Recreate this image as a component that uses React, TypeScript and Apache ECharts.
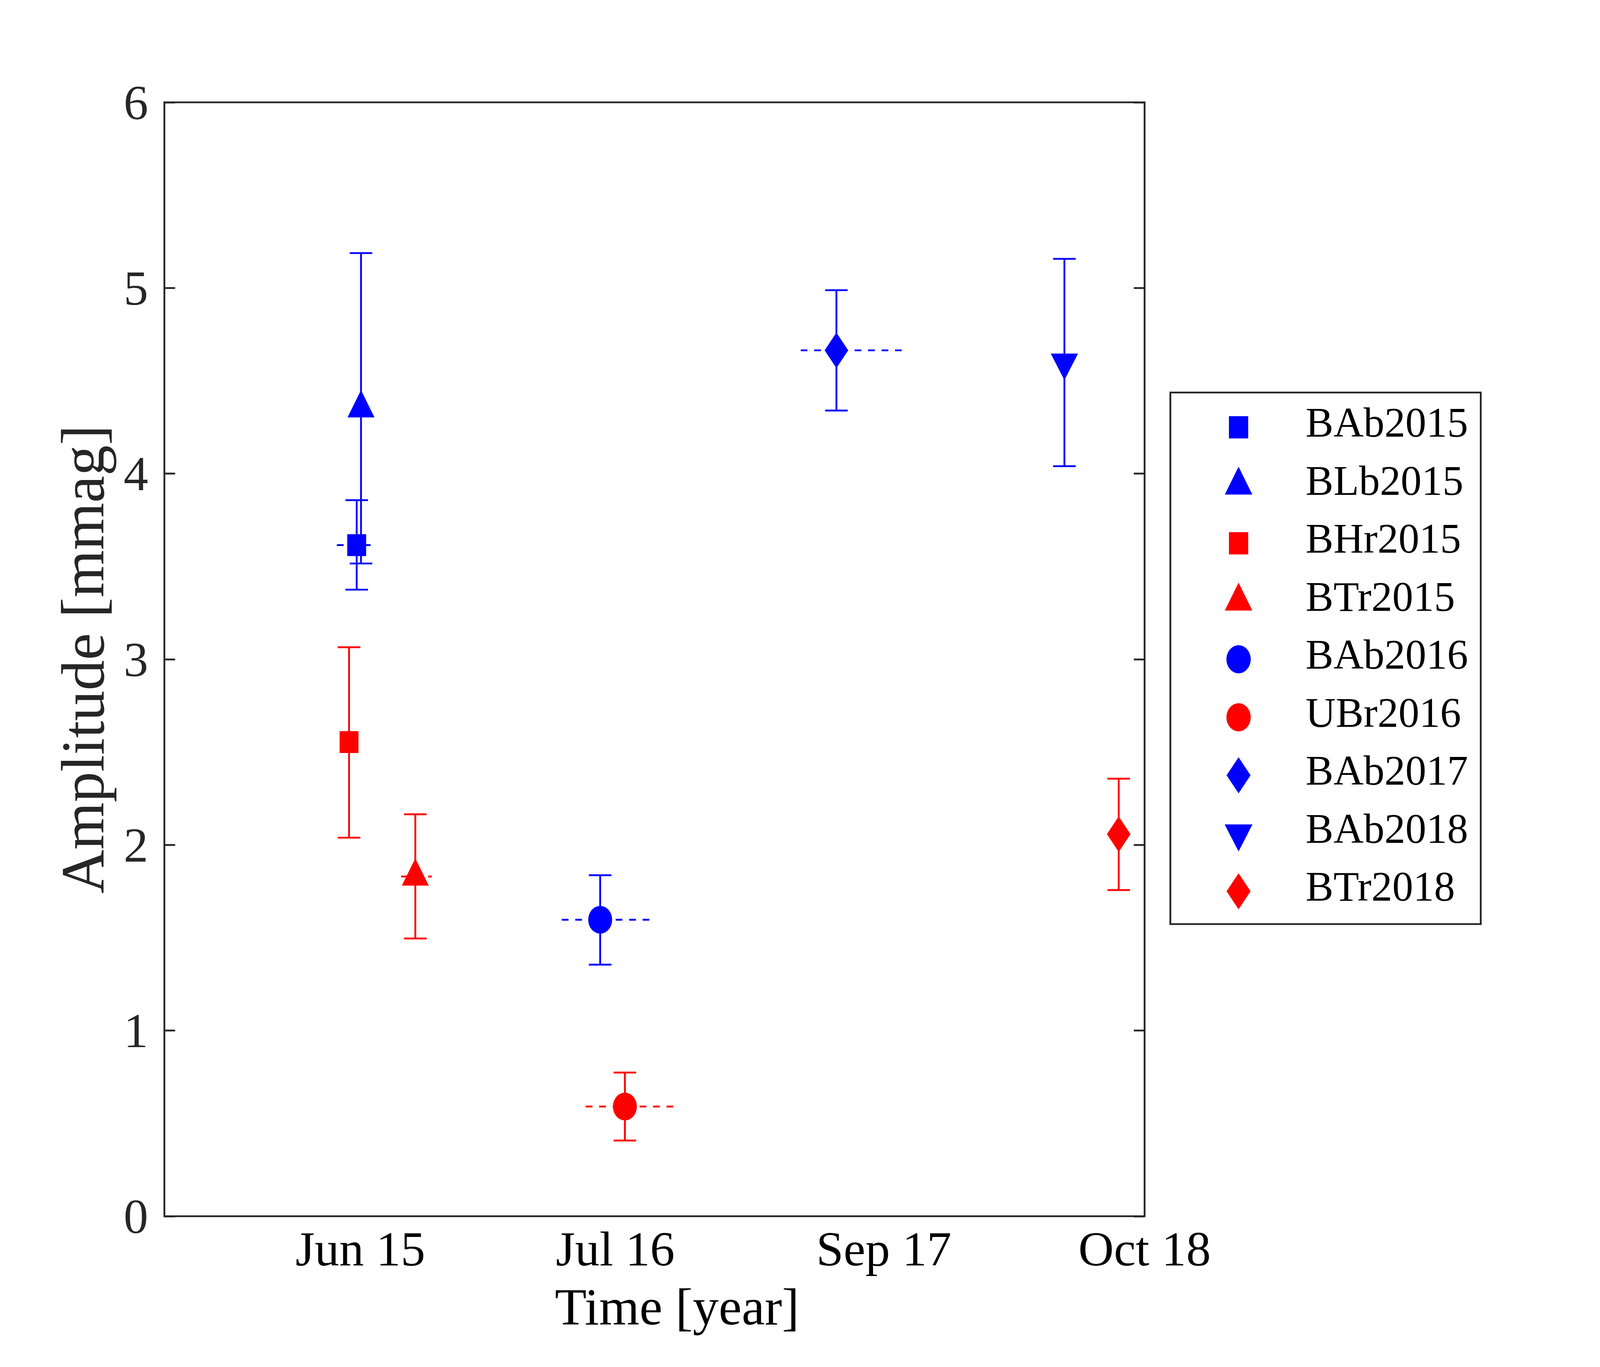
import React, { useEffect, useRef } from "react";
import * as echarts from "echarts";

// ---- data (time in months since Jan 2015, amplitude in mmag) ----
const seriesNames = ["BAb2015", "BLb2015", "BHr2015", "BTr2015", "BAb2016", "UBr2016", "BAb2017", "BAb2018", "BTr2018"];
const timeMonths = [4.81, 5.03, 4.42, 7.8, 17.23, 18.49, 29.28, 40.91, 43.68];
const amplitude = [3.615, 4.352, 2.554, 1.83, 1.597, 0.591, 4.664, 4.6, 2.058];
const ampLow = [3.375, 3.516, 2.039, 1.496, 1.355, 0.408, 4.34, 4.04, 1.757];
const ampHigh = [3.857, 5.188, 3.065, 2.165, 1.837, 0.774, 4.988, 5.157, 2.357];
const timeLow = [3.8, null, null, 7.08, 15.27, 16.49, 27.46, null, null];
const timeHigh = [5.52, null, null, 8.64, 19.74, 20.98, 32.61, null, null];
const xTickValues = [5, 18, 31.7, 45];
const xTickLabels = ["Jun 15", "Jul 16", "Sep 17", "Oct 18"];

// ---- styles ----
const BLUE = "#0000ff";
const RED = "#ff0000";
const AXIS = "#262626";
const FONT = '"Liberation Serif", "Times New Roman", serif';
const seriesColors = [BLUE, BLUE, RED, RED, BLUE, RED, BLUE, BLUE, RED];
const seriesShapes = ["square", "up", "square", "up", "circle", "circle", "diamond", "down", "diamond"];
const TRI_SHIFT = 11.7;
const ELLIPSE_PATH = "path://M0,-1 A1,1 0 1,1 0,1 A1,1 0 1,1 0,-1 Z";

type F = (v: number) => number;

function symbolFor(shape: string, px: F, py: F) {
  switch (shape) {
    case "square":
      return { symbol: "rect", symbolSize: [px(56), py(56)], symbolOffset: [0, 0], symbolRotate: 0, symbolKeepAspect: false };
    case "up":
      return { symbol: "triangle", symbolSize: [px(80), py(70)], symbolOffset: [0, -py(TRI_SHIFT)], symbolRotate: 0, symbolKeepAspect: false };
    case "down":
      return { symbol: "triangle", symbolSize: [px(81), py(68)], symbolOffset: [0, py(TRI_SHIFT)], symbolRotate: 180, symbolKeepAspect: false };
    case "circle":
      return { symbol: ELLIPSE_PATH, symbolSize: [px(71), py(71)], symbolOffset: [0, 0], symbolRotate: 0, symbolKeepAspect: false };
    default:
      return { symbol: "diamond", symbolSize: [px(70), py(91)], symbolOffset: [0, 0], symbolRotate: 0, symbolKeepAspect: false };
  }
}

function legendMarker(shape: string, cx: number, cy: number, color: string, px: F, py: F) {
  const style = { fill: color, stroke: color, lineWidth: 1 };
  switch (shape) {
    case "square":
      return { type: "rect", shape: { x: px(cx - 28), y: py(cy - 28), width: px(56), height: py(56) }, style };
    case "up": {
      const c = cy - TRI_SHIFT;
      return { type: "polygon", shape: { points: [[px(cx), py(c - 35)], [px(cx + 40), py(c + 35)], [px(cx - 40), py(c + 35)]] }, style };
    }
    case "down": {
      const c = cy + TRI_SHIFT;
      return { type: "polygon", shape: { points: [[px(cx - 40.5), py(c - 34)], [px(cx + 40.5), py(c - 34)], [px(cx), py(c + 34)]] }, style };
    }
    case "circle":
      return { type: "ellipse", shape: { cx: px(cx), cy: py(cy), rx: px(35.5), ry: py(35.5) }, style };
    default:
      return {
        type: "polygon",
        shape: { points: [[px(cx), py(cy - 45.5)], [px(cx + 35), py(cy)], [px(cx), py(cy + 45.5)], [px(cx - 35), py(cy)]] },
        style,
      };
  }
}

export default function App() {
  const ref = useRef<HTMLDivElement>(null);

  useEffect(() => {
    const el = ref.current;
    if (!el) return;
    const W = el.clientWidth || 4750;
    const H = el.clientHeight || 3500;
    const sx = W / 4750;
    const sy = H / 3500;
    const px = (v: number) => v * sx;
    const py = (v: number) => v * sy;
    const pf = (v: number) => v * sx; // horizontal text
    const lw = (v: number) => (v * (sx + sy)) / 2;

    const chart = echarts.init(el, undefined, { renderer: "svg", width: W, height: H });

    const series: any[] = [];
    seriesNames.forEach((name, k) => {
      const color = seriesColors[k];
      series.push({
        type: "custom",
        name: name + " err",
        xAxisIndex: 0,
        yAxisIndex: 0,
        z: 2,
        silent: true,
        data: [[timeMonths[k], amplitude[k]]],
        renderItem: (_params: any, api: any) => {
          const children: any[] = [];
          const lo = api.coord([timeMonths[k], ampLow[k]]);
          const hi = api.coord([timeMonths[k], ampHigh[k]]);
          const cap = px(33.5);
          const ls = { stroke: color, lineWidth: lw(5) };
          children.push({ type: "line", shape: { x1: lo[0], y1: lo[1], x2: hi[0], y2: hi[1] }, style: ls });
          children.push({ type: "line", shape: { x1: hi[0] - cap, y1: hi[1], x2: hi[0] + cap, y2: hi[1] }, style: ls });
          children.push({ type: "line", shape: { x1: lo[0] - cap, y1: lo[1], x2: lo[0] + cap, y2: lo[1] }, style: ls });
          const tl = timeLow[k];
          const th = timeHigh[k];
          if (tl !== null && th !== null) {
            const a = api.coord([tl, amplitude[k]]);
            const b = api.coord([th, amplitude[k]]);
            children.push({
              type: "line",
              shape: { x1: a[0], y1: a[1], x2: b[0], y2: b[1] },
              style: { stroke: color, lineWidth: lw(5), lineDash: [px(20), px(20)] },
            });
          }
          return { type: "group", children };
        },
      });
      const sym = symbolFor(seriesShapes[k], px, py);
      series.push({
        type: "scatter",
        name,
        xAxisIndex: 0,
        yAxisIndex: 0,
        z: 3,
        ...sym,
        itemStyle: { color, opacity: 1 },
        data: [[timeMonths[k], amplitude[k]]],
      });
    });

    // legend drawn as graphic
    const legendLeft = 3474.5;
    const legendTop = 1005;
    const legendW = 921.5;
    const legendH = 1361;
    const rowStart = 1094;
    const rowStep = 148.5;
    const markerX = 3677;
    const textX = 3876;
    const graphics: any[] = [
      {
        type: "rect",
        shape: { x: px(legendLeft), y: py(legendTop), width: px(legendW), height: py(legendH) },
        style: { fill: "#ffffff", stroke: AXIS, lineWidth: lw(5) },
        z: 10,
      },
    ];
    seriesNames.forEach((name, k) => {
      const cy = rowStart + rowStep * k;
      graphics.push({ ...legendMarker(seriesShapes[k], markerX, cy, seriesColors[k], px, py), z: 11 });
      graphics.push({
        type: "text",
        x: px(textX),
        y: py(cy - 12),
        z: 11,
        style: { text: name, fontSize: pf(124), fontFamily: FONT, fill: "#000000", align: "left", verticalAlign: "middle" },
      });
    });
    graphics.push({
      type: "text",
      x: px(246),
      y: py(1688),
      rotation: Math.PI / 2,
      style: { text: "Amplitude [mmag]", fontSize: py(156), fontFamily: FONT, fill: AXIS, align: "center", verticalAlign: "middle" },
    });
    graphics.push({
      type: "text",
      x: px(2010),
      y: py(3346),
      style: { text: "Time [year]", fontSize: pf(154), fontFamily: FONT, fill: "#000000", align: "center", verticalAlign: "middle" },
    });

    const yAxisBase = {
      type: "value",
      min: 0,
      max: 6,
      interval: 1,
      axisLine: { show: false, onZero: false },
      splitLine: { show: false },
      axisTick: { show: true, inside: true, length: px(32), lineStyle: { color: AXIS, width: lw(5) } },
    };

    chart.setOption({
      animation: false,
      backgroundColor: "#ffffff",
      grid: {
        left: px(488),
        top: py(262),
        width: px(2910),
        height: py(2852),
        show: true,
        borderColor: AXIS,
        borderWidth: lw(5),
        backgroundColor: "transparent",
        containLabel: false,
      },
      xAxis: {
        type: "value",
        min: -5,
        max: 45,
        axisLine: { show: false, onZero: false },
        axisTick: { show: false },
        splitLine: { show: false },
        axisLabel: {
          customValues: xTickValues,
          showMinLabel: true,
          showMaxLabel: true,
          margin: py(20),
          fontSize: pf(146),
          fontFamily: FONT,
          color: "#000000",
          formatter: (v: number) => {
            const j = xTickValues.findIndex((t) => Math.abs(t - v) < 1e-6);
            return j >= 0 ? xTickLabels[j] : "";
          },
        },
      },
      yAxis: [
        {
          ...yAxisBase,
          position: "left",
          axisLabel: { margin: px(48), fontSize: pf(146), fontFamily: FONT, color: AXIS, padding: [0, 0, py(20), 0] },
        },
        {
          ...yAxisBase,
          position: "right",
          axisLabel: { show: false },
        },
      ],
      graphic: graphics,
      series,
    });

    return () => {
      chart.dispose();
    };
  }, []);

  return <div ref={ref} style={{ position: "fixed", left: 0, top: 0, width: "100vw", height: "100vh", background: "#fff" }} />;
}
